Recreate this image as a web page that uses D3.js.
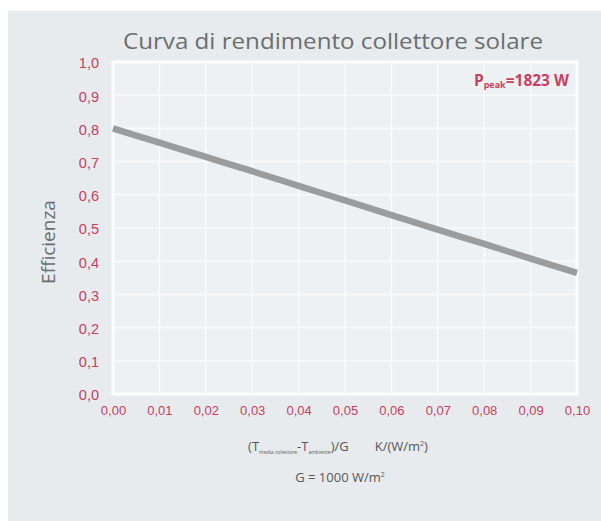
<!DOCTYPE html>
<html><head><meta charset="utf-8">
<script src="https://cdn.jsdelivr.net/npm/d3@7/dist/d3.min.js"></script>
<style>
html,body{margin:0;padding:0;background:#fff;}
svg{display:block;font-family:"Open Sans", Lato, sans-serif;}
</style></head>
<body>
<svg id="chart" width="601" height="521"></svg>
<script>
const xValues = [0.00, 0.01, 0.02, 0.03, 0.04, 0.05, 0.06, 0.07, 0.08, 0.09, 0.10];
const efficiency = [0.80, 0.757, 0.714, 0.671, 0.627, 0.583, 0.539, 0.495, 0.452, 0.408, 0.365];
const xTickLabels = ["0,00","0,01","0,02","0,03","0,04","0,05","0,06","0,07","0,08","0,09","0,10"];
const yTicks = [0,0.1,0.2,0.3,0.4,0.5,0.6,0.7,0.8,0.9,1.0];
const yTickLabels = ["0,0","0,1","0,2","0,3","0,4","0,5","0,6","0,7","0,8","0,9","1,0"];
const title = "Curva di rendimento collettore solare";
const yTitle = "Efficienza";
const peakValue = "1823 W";

const svg = d3.select("#chart");
const W = 601, H = 521;
const m = {left:113, right:24, top:62, bottom:127};
const pw = W - m.left - m.right, ph = H - m.top - m.bottom;

svg.append("rect").attr("x",8).attr("y",11).attr("width",W-8).attr("height",H-11).attr("fill","#e7ebed");

const x = d3.scaleLinear().domain([0,0.10]).range([m.left, m.left+pw]);
const y = d3.scaleLinear().domain([0,1]).range([m.top+ph, m.top]);

svg.append("rect").attr("x",m.left).attr("y",m.top).attr("width",pw).attr("height",ph)
  .attr("fill","#eef1f3");

// gridlines
const g = svg.append("g");
g.selectAll("line.v").data(xValues).join("line")
  .attr("x1",d=>x(d)).attr("x2",d=>x(d)).attr("y1",m.top).attr("y2",m.top+ph)
  .attr("stroke","#f9fafb").attr("stroke-width",1.5);
g.selectAll("line.h").data(yTicks).join("line")
  .attr("y1",d=>y(d)).attr("y2",d=>y(d)).attr("x1",m.left).attr("x2",m.left+pw)
  .attr("stroke","#f9fafb").attr("stroke-width",1.5);
svg.append("rect").attr("x",m.left).attr("y",m.top).attr("width",pw).attr("height",ph)
  .attr("fill","none").attr("stroke","#fbfcfd").attr("stroke-width",3);

// line
const line = d3.line().x((d,i)=>x(xValues[i])).y(d=>y(d)).curve(d3.curveMonotoneX);
svg.append("path").datum(efficiency).attr("d",line)
  .attr("fill","none").attr("stroke","#9a9c9e").attr("stroke-width",6.5).attr("stroke-linecap","butt");

// axes
const red = "#c8405f";
const yAxis = d3.axisLeft(y).tickValues(yTicks).tickFormat((d,i)=>yTickLabels[i]).tickSize(0).tickPadding(14);
const ya = svg.append("g").attr("transform",`translate(${m.left},0)`).call(yAxis);
ya.select(".domain").remove();
ya.selectAll("text").attr("fill",red).attr("font-size",14.5).attr("dy","0.4em");

const xAxis = d3.axisBottom(x).tickValues(xValues).tickFormat((d,i)=>xTickLabels[i]).tickSize(0).tickPadding(12);
const xa = svg.append("g").attr("transform",`translate(0,${m.top+ph})`).call(xAxis);
xa.select(".domain").remove();
xa.selectAll("text").attr("fill",red).attr("font-size",13);

// title
svg.append("text").attr("x",333).attr("y",49).attr("text-anchor","middle")
  .attr("font-size",21).attr("fill","#6b6e70").attr("textLength",420).attr("lengthAdjust","spacingAndGlyphs").text(title);

// y title
svg.append("text").attr("transform",`translate(55,${m.top+ph/2 + 14}) rotate(-90)`).attr("text-anchor","middle")
  .attr("font-size",19).attr("fill","#6b6e70").text(yTitle);

// peak label
const pk = svg.append("text").attr("x",m.left+pw-8).attr("y",86).attr("text-anchor","end")
  .attr("font-size",15.5).attr("font-weight","bold").attr("fill",red);
pk.append("tspan").text("P");
pk.append("tspan").attr("font-size",9).attr("dy",2).text("peak");
pk.append("tspan").attr("dy",-2).text("=" + peakValue);

// x title
const xt = svg.append("text").attr("x",338).attr("y",451).attr("text-anchor","middle")
  .attr("font-size",13).attr("fill","#555859");
xt.append("tspan").text("(T");
xt.append("tspan").attr("font-size",5).attr("dy",3).text("media collettore");
xt.append("tspan").attr("dy",-3).text("-T");
xt.append("tspan").attr("font-size",5).attr("dy",3).text("ambiente");
xt.append("tspan").attr("dy",-3).text(")/G\u2003\u2003K/(W/m");
xt.append("tspan").attr("font-size",7).attr("dy",-5).text("2");
xt.append("tspan").attr("dy",5).text(")");

const gt = svg.append("text").attr("x",340).attr("y",482).attr("text-anchor","middle")
  .attr("font-size",13).attr("fill","#555859");
gt.append("tspan").text("G = 1000 W/m");
gt.append("tspan").attr("font-size",7).attr("dy",-5).text("2");
</script>
</body></html>
